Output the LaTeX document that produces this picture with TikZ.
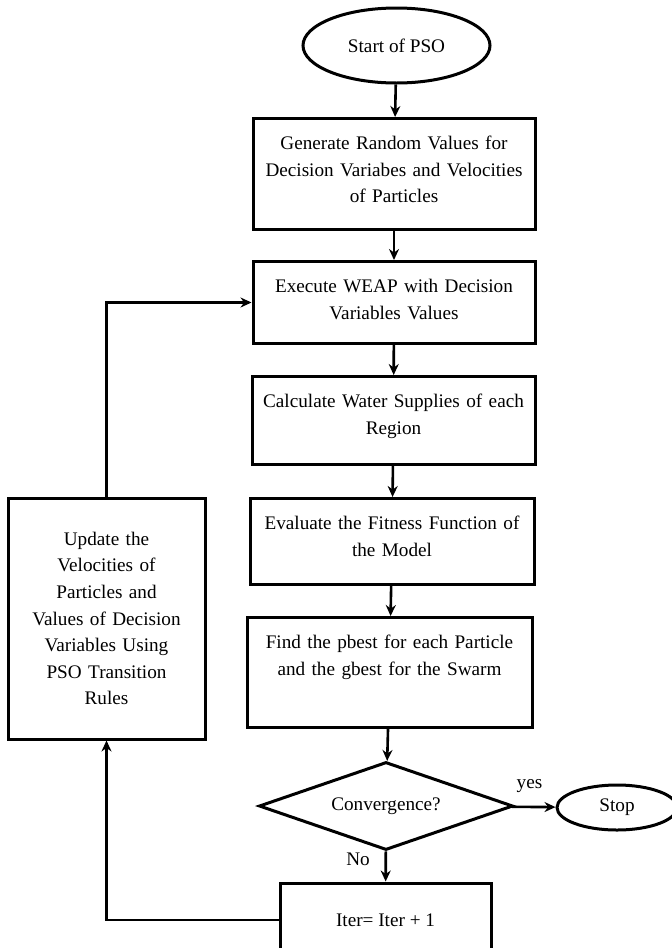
\documentclass[tikz,border=0pt]{standalone}
\usepackage{fontspec}
\setmainfont{Liberation Serif}
\usetikzlibrary{shapes.geometric,arrows.meta,positioning}

\tikzset{
  procbox/.style={draw, line width=1.5pt, align=center},
  stepbox/.style={procbox, inner xsep=4pt, inner ysep=8.5pt, text height=7pt, anchor=north},
  terminal/.style={draw, ellipse, line width=1.5pt, inner sep=0pt},
  decision/.style={draw, diamond, line width=1.5pt, inner sep=0pt, aspect=2.9},
  flow/.style={-{Stealth[length=5.5pt,width=5pt]}, line width=1.3pt},
}

\begin{document}
\begin{tikzpicture}[x=0.5pt,y=-0.5pt,font=\fontsize{9.6}{13.3}\selectfont]
  \useasboundingbox (0,0) rectangle (672,948);
  % main column
  \node[terminal, minimum width=93.5pt, minimum height=37.5pt] (start) at (396.5,45.5) {Start of PSO};
  \node[stepbox, text width=133pt, text depth=31.5pt] (gen) at (394,117) {Generate Random Values for\\Decision Variabes and Velocities\\of Particles};
  \node[stepbox, text width=133pt, text depth=17pt] (weap) at (394,260) {Execute WEAP with Decision\\Variables Values};
  \node[stepbox, text width=133.5pt, text depth=20pt] (calc) at (393.5,375) {Calculate Water Supplies of each\\Region};
  \node[stepbox, text width=134pt, text depth=19pt] (eval) at (392,497) {Evaluate the Fitness Function of\\the Model};
  \node[stepbox, text width=134.5pt, text depth=31pt] (best) at (389.5,616) {Find the pbest for each Particle\\and the gbest for the Swarm};
  \node[decision, minimum width=127pt, minimum height=44pt] (conv) at (386,806) {Convergence?};
  \node[terminal, minimum width=60pt, minimum height=22.5pt] (stop) at (617,807.5) {Stop};
  \node[procbox, minimum width=105.5pt, minimum height=37pt] (iter) at (385.5,920) {Iter= Iter + 1};
  % loop back
  \node[procbox, text width=90pt, minimum width=98.5pt, minimum height=120.5pt] (upd) at (106.5,618.5) {Update the\\Velocities of\\Particles and\\Values of Decision\\Variables Using\\PSO Transition\\Rules};

  \draw[flow] (start) -- (gen);
  \draw[flow] (gen) -- (weap);
  \draw[flow] (weap) -- (calc);
  \draw[flow] (calc) -- (eval);
  \draw[flow] (eval) -- (best);
  \draw[flow] (best) -- (conv);
  \draw[flow] (conv) -- node[pos=0.4, above=3pt] {yes} (stop);
  \draw[flow] (conv) -- node[pos=0.25, left=4pt] {No} (iter);
  \draw[flow] (iter.west) -| (upd.south);
  \draw[flow] (upd.north) |- (weap.west);
\end{tikzpicture}
\end{document}
